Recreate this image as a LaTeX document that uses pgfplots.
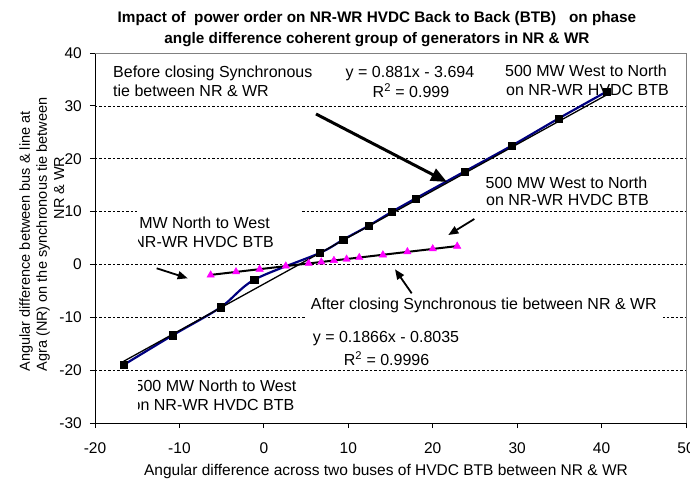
\documentclass[border=0pt]{standalone}
\usepackage{pgfplots}
\pgfplotsset{compat=1.18}
\usepackage{fontspec}
\setmainfont{Liberation Sans}
\usetikzlibrary{arrows.meta}
\definecolor{navyline}{RGB}{0,0,128}
\definecolor{mag}{RGB}{255,0,255}
\definecolor{bordergray}{RGB}{128,128,128}
\newcommand\tf{\fontsize{15.5pt}{18pt}\selectfont}
\newcommand\af{\fontsize{16pt}{19pt}\selectfont}
\newcommand\yf{\fontsize{14.5pt}{17pt}\selectfont}
\newcommand\ttl{\fontsize{15.3pt}{18pt}\selectfont\bfseries}

\pgfplotstableread{
x y
-16.6 -19.0
-10.8 -13.4
-5.1 -8.1
-1.15 -2.9
6.6 2.15
9.4 4.7
12.4 7.3
15.1 9.9
18.0 12.5
23.8 17.6
29.4 22.5
34.9 27.6
40.6 32.7
}\before

\pgfplotstableread{
x y
-6.3 -2.0
-3.3 -1.4
-0.5 -0.9
2.6 -0.3
5.3 0.2
6.8 0.45
8.3 0.75
9.8 1.0
11.3 1.3
14.1 1.8
17.0 2.4
20.0 2.95
22.9 3.45
}\after

\begin{document}
\begin{tikzpicture}
\fill[white] (-95pt,-61pt) rectangle (595pt,423pt);
\begin{axis}[
  at={(0pt,0pt)}, anchor=south west,
  scale only axis, width=591pt, height=370pt,
  xmin=-20, xmax=50, ymin=-30, ymax=40,
  xtick={-20,-10,...,50}, ytick={-30,-20,...,40},
  axis lines*=left,
  axis line style={black, line width=0.8pt},
  tick style={black, line width=0.8pt},
  tick align=outside, major tick length=5pt,
  ymajorgrids,
  grid style={black, line width=0.6pt, dash pattern=on 2.5pt off 2pt},
  tick label style={font=\tf},
  /pgf/number format/assume math mode=true,
  xticklabel style={anchor=north, inner sep=0pt, yshift=-14pt},
  yticklabel style={anchor=east, inner sep=0pt, xshift=-8pt},
  clip=false,
]
\addplot[navyline, line width=2.2pt, smooth, tension=0.5, mark=none] table {\before};
\addplot[black, line width=1.3pt, mark=none] coordinates {(-16.6,-18.32) (40.6,32.07)};
\addplot[only marks, mark=square*, mark size=3.6pt, mark options={fill=black, draw=black}] table {\before};
\addplot[only marks, mark=triangle*, mark size=4.3pt, mark options={fill=mag, draw=mag}] table {\after};
\addplot[black, line width=2pt, mark=none] coordinates {(-6.3,-1.98) (22.9,3.47)};
\end{axis}
% plot area border (top and right)
\draw[bordergray, line width=0.8pt] (0pt,370pt) -- (591pt,370pt) -- (591pt,0pt);
% white text boxes hiding gridlines
\fill[white] (42pt,165pt) rectangle (205pt,218pt);
\fill[white] (211pt,97pt) rectangle (568pt,133pt);
% title
\node[anchor=base, font=\ttl] at (282pt,400.5pt) {Impact of\ \ power order on NR-WR HVDC Back to Back (BTB)\ \ \ on phase};
\node[anchor=base, font=\ttl] at (282pt,379.5pt) {angle difference coherent group of generators in NR \& WR};
% axis titles
\node[anchor=base, font=\tf] at (291pt,-52.5pt) {Angular difference across two buses of HVDC BTB between NR \& WR};
\node[rotate=90, anchor=base west, font=\yf] at (-65pt,48pt) {Angular difference between bus \& line at};
\node[rotate=90, anchor=base west, font=\yf] at (-48pt,48pt) {Agra (NR) on the synchronous tie between};
\node[rotate=90, anchor=base, font=\yf] at (-31pt,235pt) {NR \& WR};
% annotations
\node[anchor=base west, inner sep=0pt, font=\af] at (18pt,345.5pt) {Before closing Synchronous};
\node[anchor=base west, inner sep=0pt, font=\af] at (18pt,326.5pt) {tie between NR \& WR};
\node[anchor=base, inner sep=0pt, font=\af] at (315pt,345.5pt) {y = 0.881x - 3.694};
\node[anchor=base, inner sep=0pt, font=\af] at (316pt,325.5pt) {R\textsuperscript{2} = 0.999};
\node[anchor=base west, inner sep=0pt, font=\af] at (410pt,346.5pt) {500 MW West to North};
\node[anchor=base west, inner sep=0pt, font=\af] at (411pt,327.5pt) {on NR-WR HVDC BTB};
\node[anchor=base west, inner sep=0pt, font=\af] at (390.5pt,234.5pt) {500 MW West to North};
\node[anchor=base west, inner sep=0pt, font=\af] at (391pt,217.5pt) {on NR-WR HVDC BTB};
\begin{scope}
\clip (43pt,160pt) rectangle (230pt,222pt);
\node[anchor=base west, inner sep=0pt, font=\af] at (13pt,194.5pt) {500 MW North to West};
\node[anchor=base west, inner sep=0pt, font=\af] at (16pt,175.5pt) {on NR-WR HVDC BTB};
\end{scope}
\begin{scope}
\clip (43pt,2pt) rectangle (230pt,50pt);
\node[anchor=base west, inner sep=0pt, font=\af] at (39.5pt,31.5pt) {500 MW North to West};
\node[anchor=base west, inner sep=0pt, font=\af] at (36.5pt,12.5pt) {on NR-WR HVDC BTB};
\end{scope}
\node[anchor=base west, inner sep=0pt, font=\af] at (215.7pt,113.5pt) {After closing Synchronous tie between NR \& WR};
\node[anchor=base, inner sep=0pt, font=\af] at (291pt,80.5pt) {y = 0.1866x - 0.8035};
\node[anchor=base, inner sep=0pt, font=\af] at (291.5pt,57.5pt) {R\textsuperscript{2} = 0.9996};
% arrows
\draw[line width=3pt, -{Triangle[length=16pt,width=13pt]}] (221pt,309pt) -- (352pt,241pt);
\draw[line width=1.8pt, -{Triangle[length=10pt,width=8pt]}] (379.3pt,204pt) -- (353.3pt,188pt);
\draw[line width=1.8pt, -{Triangle[length=10pt,width=8pt]}] (316.7pt,129.7pt) -- (300pt,153.7pt);
\draw[line width=1.8pt, -{Triangle[length=10pt,width=8pt]}] (61.7pt,154.7pt) -- (92.7pt,144.7pt);
\pgfresetboundingbox
\path[use as bounding box] (-95pt,-61pt) rectangle (595pt,423pt);
\end{tikzpicture}
\end{document}
